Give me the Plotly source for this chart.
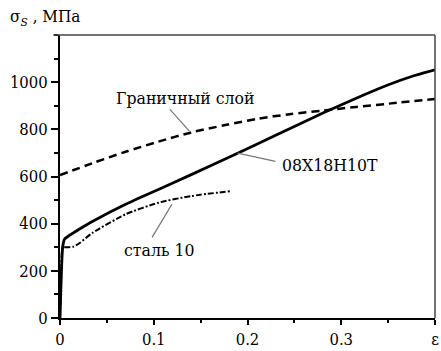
import plotly.graph_objects as go

# Data
steel_x = [0.0, 0.0015, 0.003, 0.005, 0.01, 0.02, 0.035, 0.07, 0.105, 0.14, 0.186, 0.215, 0.246, 0.281, 0.316, 0.351, 0.375, 0.4]
steel_y = [0, 200, 305, 335, 350, 375, 410, 482, 545, 608, 692, 746, 805, 870, 932, 990, 1024, 1052]

layer_x = [0.0, 0.035, 0.07, 0.105, 0.14, 0.175, 0.211, 0.245, 0.281, 0.316, 0.351, 0.4]
layer_y = [606, 657, 705, 748, 787, 817, 845, 864, 880, 895, 909, 929]

st10_x = [0.0, 0.0015, 0.003, 0.008, 0.014, 0.021, 0.035, 0.07, 0.105, 0.14, 0.182]
st10_y = [0, 200, 298, 300, 302, 318, 362, 440, 489, 517, 538]

x_tickvals = [0, 0.1, 0.2, 0.3, 0.4]
x_ticktext = ["0", "0.1", "0.2", "0.3", "ε"]
y_tickvals = [0, 200, 400, 600, 800, 1000]
y_ticktext = ["0", "200", "400", "600", "800", "1000"]

labels = ["Граничный слой", "08X18H10T", "сталь 10"]
label_x = [0.134, 0.2875, 0.106]
label_y = [932, 647, 289]
leader_x0 = [0.117, 0.2298, 0.0982]
leader_y0 = [886, 664, 342]
leader_x1 = [0.138, 0.1895, 0.1193]
leader_y1 = [792, 699, 482]

FONT = "DejaVu Serif Condensed"

fig = go.Figure()
fig.add_trace(go.Scatter(x=layer_x, y=layer_y, mode="lines",
                         line=dict(color="black", width=2.5, dash="8px,5px", shape="spline", smoothing=0.8),
                         showlegend=False))
fig.add_trace(go.Scatter(x=steel_x, y=steel_y, mode="lines",
                         line=dict(color="black", width=2.8, shape="spline", smoothing=0.6),
                         showlegend=False))
fig.add_trace(go.Scatter(x=st10_x, y=st10_y, mode="lines",
                         line=dict(color="black", width=2, dash="6px,2px,2px,2px", shape="spline", smoothing=0.6),
                         showlegend=False))

for t, x, y in zip(labels, label_x, label_y):
    fig.add_annotation(x=x, y=y, text=t, showarrow=False, font=dict(family=FONT, size=17.5, color="black"),
                       xanchor="center", yanchor="middle")
for x0, y0, x1, y1 in zip(leader_x0, leader_y0, leader_x1, leader_y1):
    fig.add_shape(type="line", x0=x0, y0=y0, x1=x1, y1=y1, xref="x", yref="y",
                  line=dict(color="#777777", width=1.2))

# frame top and right
fig.add_shape(type="line", xref="paper", yref="paper", x0=-0.018, y0=1, x1=1, y1=1,
              line=dict(color="#444444", width=1.5))
fig.add_shape(type="line", xref="paper", yref="paper", x0=1, y0=0, x1=1, y1=1,
              line=dict(color="#444444", width=1.5))

fig.add_annotation(xref="paper", yref="paper", x=-0.138, y=1.014, xanchor="left", yanchor="bottom",
                   text="σ<sub><i>S</i></sub> , МПа", showarrow=False,
                   font=dict(family=FONT, size=17, color="black"))

fig.update_xaxes(range=[0, 0.4], tickvals=x_tickvals, ticktext=x_ticktext, ticks="outside", ticklen=5, tickwidth=2,
                 tickcolor="black", showline=True, linecolor="black", linewidth=2, showgrid=False, zeroline=False,
                 ticklabeloverflow="allow",
                 minor=dict(dtick=0.05, ticks="outside", ticklen=3, tickwidth=2, tickcolor="black", showgrid=False),
                 tickfont=dict(family=FONT, size=16.5, color="black"))
fig.update_yaxes(range=[0, 1200], tickvals=y_tickvals, ticktext=y_ticktext, ticks="outside", ticklen=7, tickwidth=2,
                 tickcolor="black", showline=True, linecolor="black", linewidth=2, showgrid=False, zeroline=False,
                 ticklabeloverflow="allow",
                 minor=dict(tick0=0, dtick=100, ticks="outside", ticklen=4, tickwidth=2, tickcolor="black", showgrid=False),
                 tickfont=dict(family=FONT, size=16.5, color="black"))

fig.update_layout(width=441, height=351, margin=dict(l=60, r=2, t=35, b=30),
                  plot_bgcolor="white", paper_bgcolor="white", showlegend=False)
fig.write_html("out.html")
